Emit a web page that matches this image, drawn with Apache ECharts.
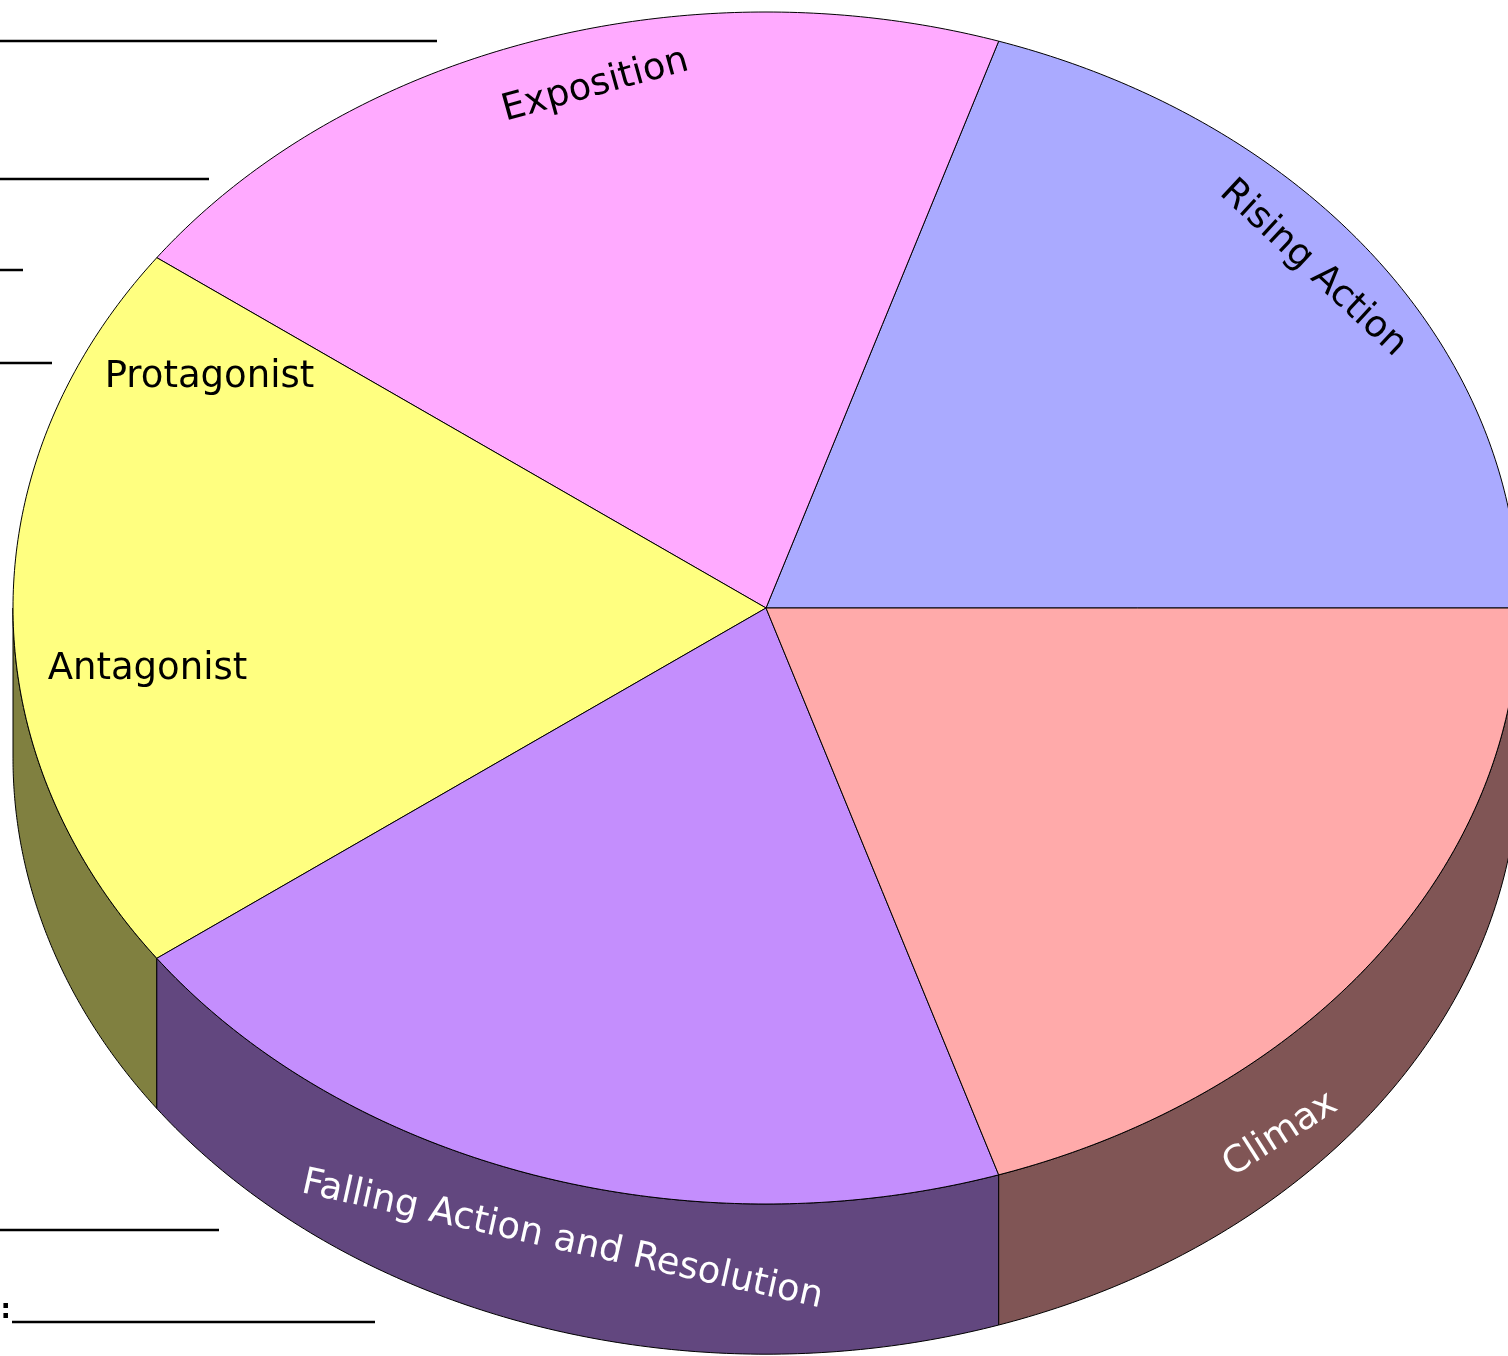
<!DOCTYPE html>
<html>
<head>
<meta charset="utf-8">
<style>
  html, body { margin: 0; padding: 0; background: #fff; }
  #chart { width: 1508px; height: 1356px; }
</style>
<script src="https://cdn.jsdelivr.net/npm/echarts@6/dist/echarts.min.js"></script>
</head>
<body>
<div id="chart"></div>
<script>
// one slice per part of the story
const categories = ['Rising Action', 'Exposition', 'Protagonist / Antagonist', 'Falling Action and Resolution', 'Climax']
const values = [1, 1, 1, 1, 1]
const sliceLabels = [['Rising Action'], ['Exposition'], ['Protagonist', 'Antagonist'], ['Falling Action and Resolution'], ['Climax']]

const topColors = ['#aaaaff', '#ffaaff', '#ffff80', '#c48efd', '#ffaaaa']
const sideColors = ['#555580', '#805580', '#808040', '#62477f', '#805555']

// thickness of the pie, in y units of the ellipse
const DEPTH = 0.252
const FONT = '"Comic Sans MS", "DejaVu Sans", sans-serif'
// the pie runs a little past the right edge of the page
const X_MAX = -1 + 1495 / 753

// label placement per slice: angle on the ellipse (deg), radius fraction,
// or side = how far down the side face, plus text rotation
const labelLayout = [
  [{ angle: 38.1, r: 0.923, rotate: -43, color: '#000' }],
  [{ angle: 104.5, r: 0.905, rotate: 15.5, color: '#000' }],
  [{ angle: 152.4, r: 0.834, rotate: 0, color: '#000' }, { angle: 187.2, r: 0.828, rotate: 0, color: '#000' }],
  [{ angle: 254.3, side: 0.39, rotate: -12.5, color: '#fff' }],
  [{ angle: 313.1, side: 0.61, rotate: 32.5, color: '#fff' }]
]

const total = values.reduce((a, b) => a + b, 0)
function sliceAngles(i) {
  let start = 0
  for (let k = 0; k < i; k++) start += values[k]
  return [start / total * 2 * Math.PI, (start + values[i]) / total * 2 * Math.PI]
}

function arc(api, a0, a1, dy) {
  const pts = []
  const steps = 120
  for (let s = 0; s <= steps; s++) {
    const a = a0 + (a1 - a0) * s / steps
    pts.push(api.coord([Math.cos(a), Math.sin(a) + dy]))
  }
  return pts
}

function renderSide(params, api) {
  const i = params.dataIndex
  const [a0, a1] = sliceAngles(i)
  const s0 = Math.max(a0, Math.PI)
  const s1 = Math.min(a1, 2 * Math.PI)
  if (s1 <= s0) return { type: 'group', children: [] }
  const pts = arc(api, s0, s1, 0).concat(arc(api, s0, s1, -DEPTH).reverse())
  return {
    type: 'polygon',
    shape: { points: pts },
    style: { fill: sideColors[i], stroke: '#000', lineWidth: 1 }
  }
}

function renderTop(params, api) {
  const i = params.dataIndex
  const [a0, a1] = sliceAngles(i)
  const pts = [api.coord([0, 0])].concat(arc(api, a0, a1, 0))
  const children = [{
    type: 'polygon',
    shape: { points: pts },
    style: { fill: topColors[i], stroke: '#000', lineWidth: 1 }
  }]
  sliceLabels[i].forEach((txt, j) => {
    const l = labelLayout[i][j]
    const a = l.angle * Math.PI / 180
    const p = l.side != null
      ? api.coord([Math.cos(a), Math.sin(a) - l.side * DEPTH])
      : api.coord([l.r * Math.cos(a), l.r * Math.sin(a)])
    children.push({
      type: 'text',
      x: p[0],
      y: p[1],
      rotation: l.rotate * Math.PI / 180,
      style: {
        text: txt,
        fill: l.color,
        fontSize: 37,
        fontFamily: FONT,
        align: 'center',
        verticalAlign: 'middle'
      }
    })
  })
  return { type: 'group', children }
}

const chart = echarts.init(document.getElementById('chart'))
const seriesData = values.map((v, i) => ({ name: categories[i], value: [0, 0, v] }))

// worksheet underlines showing at the left edge
const blankLines = [[0, 41, 437], [0, 179, 209], [0, 270, 23], [0, 363, 52], [0, 1230, 219], [12, 1322, 375]]

chart.setOption({
  animation: false,
  grid: { left: 13, top: 12, width: 1495, height: 596 * (2 + DEPTH) },
  xAxis: { type: 'value', min: -1, max: X_MAX, show: false },
  yAxis: { type: 'value', min: -1 - DEPTH, max: 1, show: false },
  graphic: blankLines.map(l => ({
    type: 'line',
    shape: { x1: l[0], y1: l[1], x2: l[2], y2: l[1] },
    style: { stroke: '#000', lineWidth: 2.5 }
  })).concat([{
    type: 'text',
    x: 11,
    y: 1324,
    style: { text: 'n:', fill: '#000', fontSize: 26, fontWeight: 'bold', fontFamily: FONT, align: 'right', verticalAlign: 'bottom' }
  }]),
  series: [
    { type: 'custom', clip: false, renderItem: renderSide, data: seriesData, z: 1 },
    { type: 'custom', clip: false, renderItem: renderTop, data: seriesData, z: 2 }
  ]
})
</script>
</body>
</html>
